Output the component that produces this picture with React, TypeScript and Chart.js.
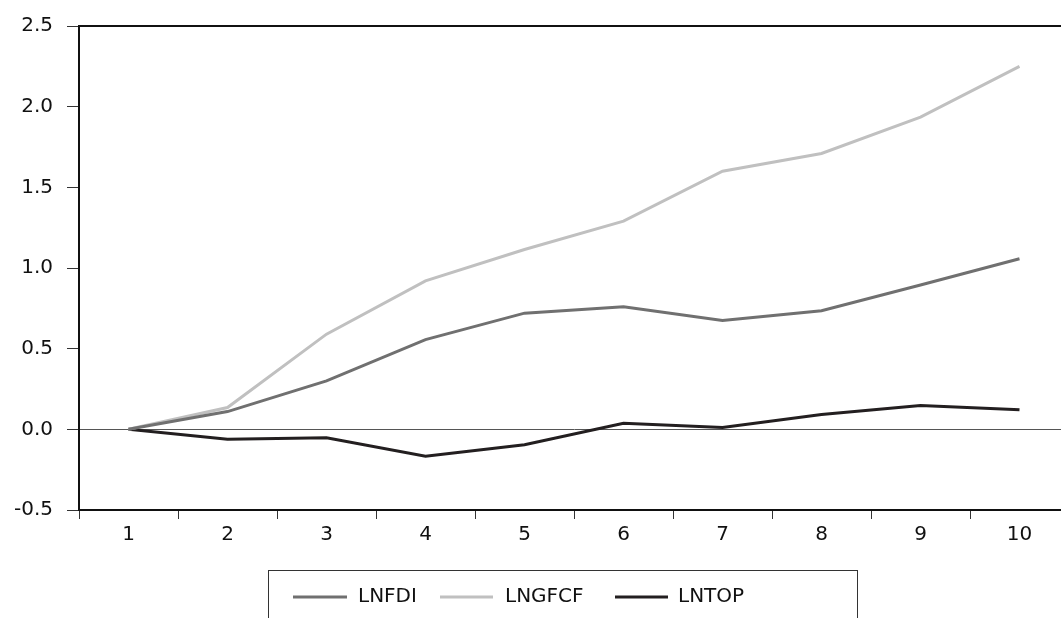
import React, { useEffect, useRef } from "react";
import { Chart, registerables } from "chart.js";

Chart.register(...registerables);

const categories = ["1", "2", "3", "4", "5", "6", "7", "8", "9", "10"];
const lnfdi = [0, 0.11, 0.3, 0.556, 0.72, 0.76, 0.675, 0.735, 0.895, 1.057];
const lngfcf = [0, 0.135, 0.59, 0.92, 1.115, 1.29, 1.6, 1.71, 1.935, 2.25];
const lntop = [0, -0.062, -0.052, -0.167, -0.095, 0.037, 0.012, 0.092, 0.148, 0.122];
const yTicks = [-0.5, 0, 0.5, 1.0, 1.5, 2.0, 2.5];

const FONT = "'DejaVu Sans', 'Open Sans', sans-serif";

const frameAndLegend = {
  id: "frameAndLegend",
  afterDraw(chart: any) {
    const ctx = chart.ctx;
    const a = chart.chartArea;
    ctx.save();
    ctx.strokeStyle = "#111";
    ctx.lineWidth = 2;
    ctx.beginPath();
    ctx.moveTo(a.left, a.bottom);
    ctx.lineTo(a.left, a.top);
    ctx.lineTo(a.right, a.top);
    ctx.lineTo(a.right, a.bottom);
    ctx.stroke();
    // legend
    ctx.lineWidth = 1;
    ctx.strokeStyle = "#333";
    ctx.strokeRect(268.5, 570.5, 589, 80);
    const items = [
      { x1: 293, x2: 347, tx: 358 },
      { x1: 440, x2: 493, tx: 505 },
      { x1: 615, x2: 668, tx: 678 },
    ];
    ctx.font = `20px ${FONT}`;
    ctx.textBaseline = "middle";
    ctx.textAlign = "left";
    chart.data.datasets.forEach((ds: any, i: number) => {
      const it = items[i];
      ctx.strokeStyle = ds.borderColor;
      ctx.lineWidth = 3;
      ctx.beginPath();
      ctx.moveTo(it.x1, 597);
      ctx.lineTo(it.x2, 597);
      ctx.stroke();
      ctx.fillStyle = "#111";
      ctx.fillText(ds.label, it.tx, 597);
    });
    ctx.restore();
  },
};

export default function App() {
  const ref = useRef<HTMLCanvasElement>(null);
  useEffect(() => {
    if (!ref.current) return;
    const chart = new Chart(ref.current, {
      type: "line",
      data: {
        labels: categories,
        datasets: [
          { label: "LNFDI", data: lnfdi, borderColor: "#707070", borderWidth: 3, pointRadius: 0, tension: 0 },
          { label: "LNGFCF", data: lngfcf, borderColor: "#c0c0c0", borderWidth: 3, pointRadius: 0, tension: 0 },
          { label: "LNTOP", data: lntop, borderColor: "#231f20", borderWidth: 3, pointRadius: 0, tension: 0 },
        ],
      },
      options: {
        responsive: false,
        animation: false,
        devicePixelRatio: 1,
        layout: { padding: { top: 25, right: 31, left: 0, bottom: 0 } },
        plugins: { legend: { display: false }, tooltip: { enabled: false } },
        scales: {
          x: {
            offset: true,
            grid: { offset: true, drawOnChartArea: false, drawTicks: true, tickLength: 9, tickColor: "#333", lineWidth: 1 },
            border: { display: true, color: "#111", width: 2 },
            ticks: { color: "#111", font: { family: FONT, size: 20 }, padding: 4, maxRotation: 0 },
            afterFit: (s: any) => { s.height = 108; },
          },
          y: {
            min: -0.5,
            max: 2.5,
            afterBuildTicks: (s: any) => { s.ticks = yTicks.map((v) => ({ value: v })); },
            grid: {
              drawTicks: true,
              tickLength: 12,
              tickColor: "#333",
              color: (c: any) => (c.tick && c.tick.value === 0 ? "#555" : "rgba(0,0,0,0)"),
              lineWidth: 1,
            },
            border: { display: true, color: "#111", width: 2 },
            ticks: {
              color: "#111",
              font: { family: FONT, size: 20 },
              padding: 14,
              callback: (v: any) => Number(v).toFixed(1),
            },
            afterFit: (s: any) => { s.width = 79; },
          },
        },
      },
      plugins: [frameAndLegend],
    });
    return () => chart.destroy();
  }, []);
  return (
    <div style={{ position: "fixed", left: 0, top: 0, width: 1061, height: 618, overflow: "hidden", background: "#fff" }}>
      <canvas ref={ref} width={1100} height={618} style={{ width: 1100, height: 618, display: "block" }} />
    </div>
  );
}
